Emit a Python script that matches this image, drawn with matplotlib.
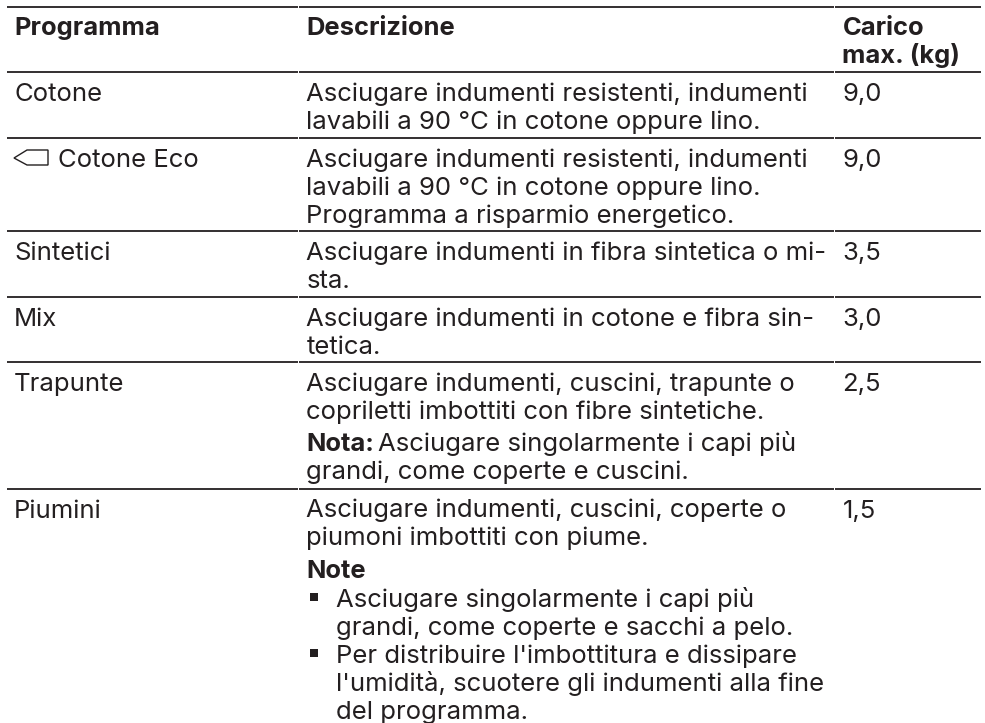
import matplotlib.pyplot as plt
from matplotlib.patches import Polygon

plt.rcParams['font.family'] = ['Inter', 'Liberation Sans', 'DejaVu Sans']

# table content
headers = ["Programma", "Descrizione", "Carico\nmax. (kg)"]
programs = ["Cotone", "Cotone Eco", "Sintetici", "Mix", "Trapunte", "Piumini"]
loads = ["9,0", "9,0", "3,5", "3,0", "2,5", "1,5"]
descriptions = [
    ["Asciugare indumenti resistenti, indumenti", "lavabili a 90 °C in cotone oppure lino."],
    ["Asciugare indumenti resistenti, indumenti", "lavabili a 90 °C in cotone oppure lino.", "Programma a risparmio energetico."],
    ["Asciugare indumenti in fibra sintetica o mi-", "sta."],
    ["Asciugare indumenti in cotone e fibra sin-", "tetica."],
    ["Asciugare indumenti, cuscini, trapunte o", "copriletti imbottiti con fibre sintetiche."],
    ["Asciugare indumenti, cuscini, coperte o", "piumoni imbottiti con piume."],
]
trapunte_note = ["Asciugare singolarmente i capi più", "grandi, come coperte e cuscini."]
piumini_bullets = [
    ["Asciugare singolarmente i capi più", "grandi, come coperte e sacchi a pelo."],
    ["Per distribuire l'imbottitura e dissipare", "l'umidità, scuotere gli indumenti alla fine", "del programma."],
]

# layout in pixels
rules = [6.7, 72.3, 137.7, 231, 296.7, 362, 488.5]
col_x = [14, 306.5, 842.5]
fs = 18.5
fs_bold = 18.4
color = '#231f20'
lh = 28

fig = plt.figure(figsize=(9.85, 7.23), dpi=100)
ax = fig.add_axes([0, 0, 1, 1])
ax.set_xlim(0, 985)
ax.set_ylim(723, 0)
ax.axis('off')

for y in rules:
    # small breaks where the columns meet
    for x0, x1 in [(7, 298), (298.7, 834), (834.7, 981)]:
        ax.plot([x0, x1], [y, y], color=color, lw=1.3, solid_capstyle='butt')

def put(x, y, s, bold=False):
    ax.text(x, y, s, fontsize=fs_bold if bold else fs, color=color, va='baseline', ha='left',
            fontweight='bold' if bold else 'normal')

put(col_x[0], 35, headers[0], True)
put(col_x[1], 35, headers[1], True)
for i, line in enumerate(headers[2].split('\n')):
    put(col_x[2], 35 + i * lh, line, True)

for i in range(len(programs)):
    base = rules[i + 1] + 29
    x = 58 if programs[i] == "Cotone Eco" else col_x[0]
    put(x, base, programs[i])
    put(col_x[2], base, loads[i])
    for j, line in enumerate(descriptions[i]):
        put(col_x[1], base + j * lh, line)

# tag icon next to Cotone Eco
ax.add_patch(Polygon([(14, 158), (27, 150), (48, 150), (48, 165), (27, 165)],
                     closed=True, fill=False, edgecolor=color, lw=1))

# Trapunte note
base = rules[5] + 29 + 2 * lh + 4
put(col_x[1], base, "Nota:", True)
put(col_x[1] + 71, base, trapunte_note[0])
put(col_x[1], base + lh, trapunte_note[1])

# Piumini notes
base = rules[6] + 29 + 2 * lh + 4
put(col_x[1], base, "Note", True)
y = base + lh + 1
for item in piumini_bullets:
    ax.plot([313.5], [y - 9.5], marker='s', ms=6.3, color=color, mew=0)
    for line in item:
        put(col_x[1] + 30, y, line)
        y += lh

fig.savefig('out.png', dpi=100)
